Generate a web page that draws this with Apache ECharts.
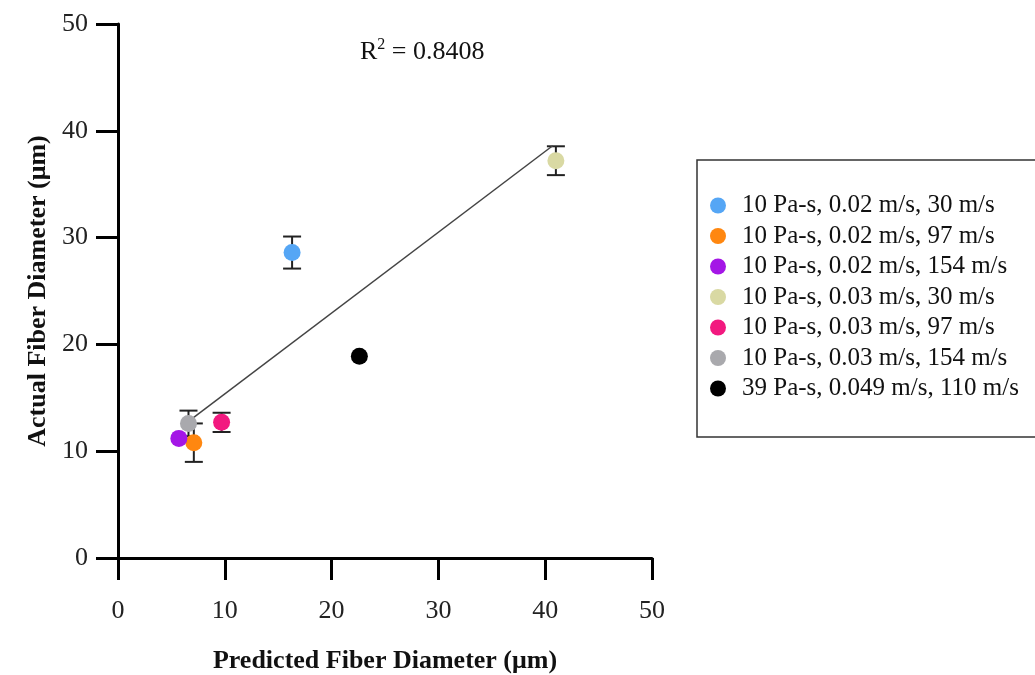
<!DOCTYPE html>
<html>
<head>
<meta charset="UTF-8">
<title></title>
<script src="https://cdn.jsdelivr.net/npm/echarts@6/dist/echarts.min.js"></script>
<style>
  html, body { margin: 0; padding: 0; background: #fff; }
</style>
</head>
<body>
<div id="chart" style="width:1035px;height:675px;"></div>
<script type="text/javascript">
// groups shown in the legend
var groupNames = [
  '10 Pa-s, 0.02 m/s, 30 m/s',
  '10 Pa-s, 0.02 m/s, 97 m/s',
  '10 Pa-s, 0.02 m/s, 154 m/s',
  '10 Pa-s, 0.03 m/s, 30 m/s',
  '10 Pa-s, 0.03 m/s, 97 m/s',
  '10 Pa-s, 0.03 m/s, 154 m/s',
  '39 Pa-s, 0.049 m/s, 110 m/s'
];
var groupColors = ['#55a6f5', '#ff8710', '#a416e6', '#d9d9a3', '#f2197f', '#a9a9ad', '#000000'];
var predicted = [16.3, 7.1, 5.7, 41.0, 9.7, 6.6, 22.6];
var actual = [28.6, 10.8, 11.2, 37.2, 12.7, 12.6, 18.9];
var errorSd = [1.5, 1.8, 0, 1.35, 0.9, 1.2, 0];
// fitted line end points
var trendX = [6.6, 40.7];
var trendY = [12.8, 38.6];
var r2Text = '0.8408';

var fontSerif = '"Liberation Serif", "Times New Roman", serif';

var series = [];
// error bars, drawn under the points
var errData = [];
for (var i = 0; i < predicted.length; i++) {
  if (errorSd[i] > 0) errData.push([predicted[i], actual[i] - errorSd[i], actual[i] + errorSd[i]]);
}
series.push({
  type: 'custom',
  name: 'err',
  z: 1,
  data: errData,
  renderItem: function (params, api) {
    var lo = api.coord([api.value(0), api.value(1)]);
    var hi = api.coord([api.value(0), api.value(2)]);
    var w = 9;
    var st = { stroke: '#222', lineWidth: 2 };
    return {
      type: 'group',
      children: [
        { type: 'line', shape: { x1: lo[0], y1: lo[1], x2: hi[0], y2: hi[1] }, style: st },
        { type: 'line', shape: { x1: lo[0] - w, y1: lo[1], x2: lo[0] + w, y2: lo[1] }, style: st },
        { type: 'line', shape: { x1: hi[0] - w, y1: hi[1], x2: hi[0] + w, y2: hi[1] }, style: st }
      ]
    };
  }
});
series.push({
  type: 'line',
  name: 'fit',
  z: 2,
  symbol: 'none',
  silent: true,
  lineStyle: { color: '#444', width: 1.5 },
  data: [[trendX[0], trendY[0]], [trendX[1], trendY[1]]]
});
for (var j = 0; j < groupNames.length; j++) {
  series.push({
    type: 'scatter',
    name: groupNames[j],
    z: 3,
    symbolSize: 17,
    itemStyle: { color: groupColors[j], opacity: 1 },
    data: [[predicted[j], actual[j]]]
  });
}

var chart = echarts.init(document.getElementById('chart'));
chart.setOption({
  backgroundColor: '#fff',
  animation: false,
  title: {
    text: '{r|R}{s|2}{r| = ' + r2Text + '}',
    left: 355,
    top: 32,
    textStyle: {
      fontWeight: 'normal',
      rich: {
        r: { fontFamily: fontSerif, fontSize: 26, fontWeight: 'normal', color: '#111', lineHeight: 30 },
        s: { fontFamily: fontSerif, fontSize: 16, fontWeight: 'normal', color: '#111', lineHeight: 30, verticalAlign: 'top' }
      }
    }
  },
  grid: { left: 118, right: 383, top: 24, bottom: 117, outerBoundsMode: 'none', containLabel: false },
  legend: {
    data: groupNames,
    orient: 'vertical',
    left: 697,
    top: 160,
    padding: [33, 80, 36, 13],
    itemGap: 5.5,
    itemWidth: 16,
    itemHeight: 16,
    icon: 'circle',
    borderColor: '#333',
    borderWidth: 1.5,
    borderRadius: 0,
    textStyle: { fontFamily: fontSerif, fontSize: 25, color: '#111', padding: [0, 0, 0, 11] }
  },
  xAxis: {
    type: 'value',
    min: 0,
    max: 50,
    interval: 10,
    name: 'Predicted Fiber Diameter (μm)',
    nameLocation: 'middle',
    nameGap: 90,
    nameTextStyle: { fontFamily: fontSerif, fontSize: 26, fontWeight: 'bold', color: '#111' },
    splitLine: { show: false },
    axisLine: { onZero: false, lineStyle: { color: '#000', width: 3 } },
    axisTick: { length: 22, lineStyle: { color: '#000', width: 3 } },
    axisLabel: { margin: 40, fontFamily: fontSerif, fontSize: 26, color: '#222' }
  },
  yAxis: {
    type: 'value',
    min: 0,
    max: 50,
    interval: 10,
    name: 'Actual Fiber Diameter (μm)',
    nameLocation: 'middle',
    nameGap: 66,
    nameTextStyle: { fontFamily: fontSerif, fontSize: 26, fontWeight: 'bold', color: '#111' },
    splitLine: { show: false },
    axisLine: { onZero: false, lineStyle: { color: '#000', width: 3 } },
    axisTick: { length: 22, lineStyle: { color: '#000', width: 3 } },
    axisLabel: { margin: 30, fontFamily: fontSerif, fontSize: 26, color: '#222' }
  },
  series: series
});
</script>
</body>
</html>
